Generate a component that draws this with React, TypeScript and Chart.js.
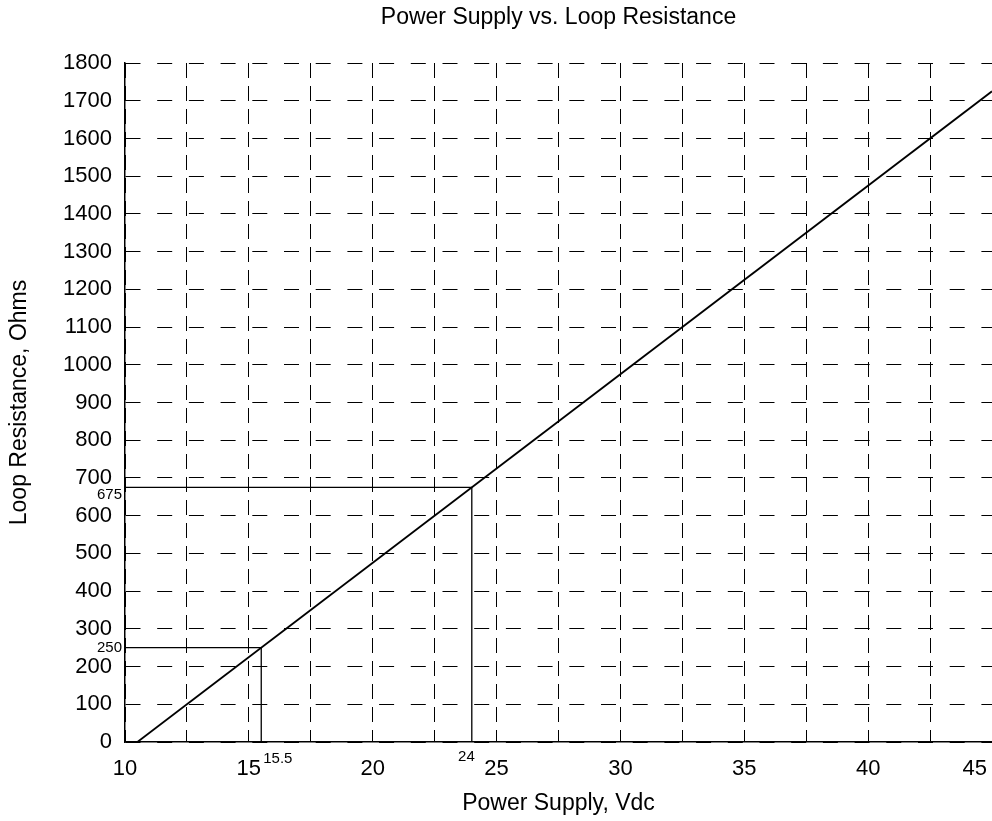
import React, { useEffect, useRef } from "react";
import { Chart, registerables } from "chart.js";

Chart.register(...registerables);

const FONT = "'Liberation Sans', Arial, Helvetica, sans-serif";

const chartTitle = "Power Supply vs. Loop Resistance";
const xAxisTitle = "Power Supply, Vdc";
const yAxisTitle = "Loop Resistance, Ohms";

const xMin = 10;
const xMax = 45;
const xGridStep = 2.5;
const xTickLabels = [10, 15, 20, 25, 30, 35, 40, 45];

const yMin = 0;
const yMax = 1800;
const yStep = 100;

// Main line: power supply (V) vs maximum loop resistance (Ohms)
const supplyVolts = [10.5, 45];
const loopOhms = [0, 1725];

// Reference markers
const markerAVolts = [10, 15.5, 15.5];
const markerAOhms = [250, 250, 0];
const markerBVolts = [10, 24, 24];
const markerBOhms = [675, 675, 0];

const markerXLabels = ["15.5", "24"];
const markerXValues = [15.5, 24];
const markerYLabels = ["250", "675"];
const markerYValues = [250, 675];

const toPoints = (xs: number[], ys: number[]) => xs.map((x, i) => ({ x, y: ys[i] }));

const labelsPlugin = {
  id: "customLabels",
  afterDraw(chart: any) {
    const ctx = chart.ctx;
    const xs = chart.scales.x;
    const ys = chart.scales.y;
    const area = chart.chartArea;
    ctx.save();
    ctx.fillStyle = "#000";
    // x tick labels
    ctx.font = `22px ${FONT}`;
    ctx.textAlign = "center";
    ctx.textBaseline = "alphabetic";
    for (const v of xTickLabels) {
      const t = String(v);
      const w = ctx.measureText(t).width;
      let px = xs.getPixelForValue(v);
      px = Math.min(px, chart.width - 5 - w / 2);
      ctx.fillText(t, px, area.bottom + 33);
    }
    // marker annotations
    ctx.font = `15px ${FONT}`;
    ctx.textAlign = "right";
    ctx.fillText(markerYLabels[0], area.left - 3, ys.getPixelForValue(markerYValues[0]) + 4);
    ctx.fillText(markerYLabels[1], area.left - 3, ys.getPixelForValue(markerYValues[1]) + 12);
    ctx.textAlign = "left";
    ctx.fillText(markerXLabels[0], xs.getPixelForValue(markerXValues[0]) + 2, area.bottom + 21);
    ctx.textAlign = "right";
    ctx.fillText(markerXLabels[1], xs.getPixelForValue(markerXValues[1]) + 3, area.bottom + 19);
    ctx.restore();
  },
};

export default function App() {
  const canvasRef = useRef<HTMLCanvasElement | null>(null);

  useEffect(() => {
    document.body.style.margin = "0";
    const canvas = canvasRef.current;
    if (!canvas) return;
    const chart = new Chart(canvas, {
      type: "scatter",
      data: {
        datasets: [
          {
            data: toPoints(supplyVolts, loopOhms),
            showLine: true,
            borderColor: "#000",
            borderWidth: 1.8,
            pointRadius: 0,
          },
          {
            data: toPoints(markerAVolts, markerAOhms),
            showLine: true,
            borderColor: "#000",
            borderWidth: 1.3,
            pointRadius: 0,
          },
          {
            data: toPoints(markerBVolts, markerBOhms),
            showLine: true,
            borderColor: "#000",
            borderWidth: 1.3,
            pointRadius: 0,
          },
        ],
      },
      options: {
        responsive: false,
        animation: false,
        events: [],
        layout: { padding: 0 },
        plugins: {
          legend: { display: false },
          tooltip: { enabled: false },
          title: {
            display: true,
            text: chartTitle,
            color: "#000",
            fullSize: false,
            font: { family: FONT, size: 23, weight: "normal" },
            padding: { top: 4, bottom: 31.4 },
          },
        },
        scales: {
          x: {
            type: "linear",
            min: xMin,
            max: xMax,
            ticks: { display: false, stepSize: xGridStep },
            grid: {
              color: (c: any) => (c.tick && c.tick.value === xMax ? "rgba(0,0,0,0)" : "#000"),
              lineWidth: 1,
              drawTicks: false,
            },
            border: { display: true, color: "#000", width: 1.5, dash: [15, 8] },
            title: {
              display: true,
              text: xAxisTitle,
              color: "#000",
              font: { family: FONT, size: 23, weight: "normal" },
              padding: { top: 0, bottom: 4 },
            },
            afterFit: (s: any) => {
              s.height = 79;
            },
          },
          y: {
            type: "linear",
            min: yMin,
            max: yMax,
            ticks: {
              stepSize: yStep,
              autoSkip: false,
              color: "#000",
              padding: 13,
              font: { family: FONT, size: 22 },
              callback: (v: any) => String(v),
            },
            grid: { color: "#000", lineWidth: 1, drawTicks: false },
            border: { display: true, color: "#000", width: 1.5, dash: [15, 16.7] },
            title: {
              display: true,
              text: yAxisTitle,
              color: "#000",
              font: { family: FONT, size: 23, weight: "normal" },
              padding: { top: 6, bottom: 0 },
            },
            afterFit: (s: any) => {
              s.width = 125;
            },
          },
        },
      },
      plugins: [labelsPlugin],
    });
    return () => chart.destroy();
  }, []);

  return (
    <div style={{ width: 992, height: 821 }}>
      <canvas ref={canvasRef} width={992} height={821} style={{ display: "block" }} />
    </div>
  );
}
